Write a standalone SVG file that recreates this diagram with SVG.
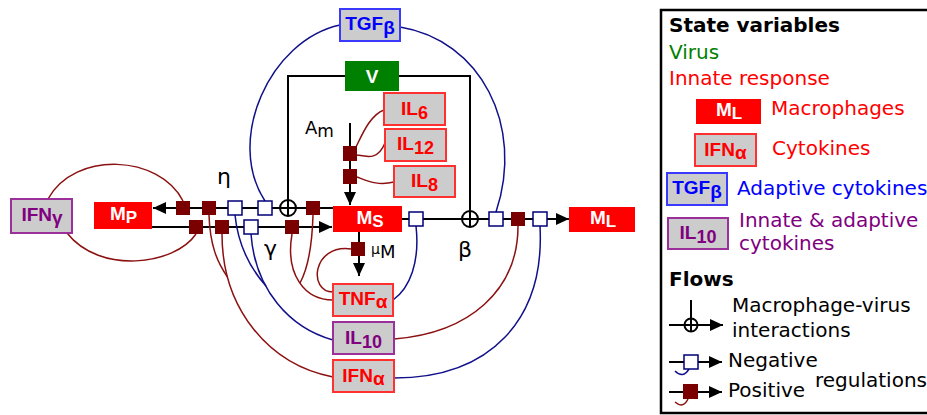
<svg xmlns="http://www.w3.org/2000/svg" width="927" height="415" viewBox="0 0 927 415">
<style>
.ln{stroke:#000;stroke-width:2;fill:none}
.pos{fill:#7a0000}
.neg{fill:#fff;stroke:#00007a;stroke-width:1.5}
.cr{stroke:#8b1010;stroke-width:1.5;fill:none}
.cb{stroke:#10108b;stroke-width:1.5;fill:none}
.gr{fill:#ccc;stroke-width:2}
.lbl{font-family:"Liberation Sans",Arial,sans-serif;font-weight:bold;font-size:19px;text-anchor:middle}
.sub{font-size:18px}
.gk{font-size:19px}
.leg{font-family:"DejaVu Sans",sans-serif;font-size:20px}
.sym{font-family:"DejaVu Sans",sans-serif;font-size:22px}
</style>
<defs>
<marker id="ah" markerUnits="userSpaceOnUse" markerWidth="13" markerHeight="12" refX="13" refY="6" orient="auto">
<path d="M0,0 L13,6 L0,12 z" fill="#000"/>
</marker>
</defs>

<g id="connectors">
<path class="ln" d="M333,208 H153" marker-end="url(#ah)"/>
<path class="ln" d="M152,227 H332" marker-end="url(#ah)"/>
<path class="ln" d="M402,219 H569" marker-end="url(#ah)"/>
<path class="ln" d="M350,123 V205" marker-end="url(#ah)"/>
<path class="ln" d="M359,232 V276" marker-end="url(#ah)"/>
<path class="ln" d="M345,76 H288 V216"/>
<path class="ln" d="M399,76 H470 V227"/>
<circle class="ln" cx="288" cy="208" r="8"/>
<circle class="ln" cx="470" cy="219" r="8"/>

<path class="cr" d="M48,199 C75,150 160,155 183,201"/>
<path class="cr" d="M67,233 C100,275 175,265 196,234"/>
<path class="cb" d="M340,25 C270,40 225,140 265,201"/>
<path class="cb" d="M400,27 C480,40 525,125 496,212"/>
<path class="cr" d="M384,110 C370,115 362,135 356,147"/>
<path class="cr" d="M385,143 C378,160 368,157 357,155"/>
<path class="cr" d="M394,182 C378,186 368,181 357,177"/>
<path class="cr" d="M351,249 C312,244 308,292 333,292"/>
<path class="cr" d="M292,234 C285,275 305,300 333,300"/>
<path class="cr" d="M313,215 C312,250 306,272 300,283"/>
<path class="cb" d="M333,340 C290,328 255,290 251,234"/>
<path class="cb" d="M235,215 C238,245 250,268 266,286"/>
<path class="cr" d="M333,377 C270,365 222,310 222,234"/>
<path class="cr" d="M209,215 C210,245 217,262 227.5,277"/>
<path class="cb" d="M393,300 C410,288 420,262 416,226"/>
<path class="cr" d="M394,339 C470,333 518,290 518,226"/>
<path class="cb" d="M394,378 C490,378 545,320 540,226"/>

<rect class="pos" x="176" y="201" width="14" height="14"/>
<rect class="pos" x="202" y="201" width="14" height="14"/>
<rect class="neg" x="228" y="201" width="14" height="14"/>
<rect class="neg" x="258" y="201" width="14" height="14"/>
<rect class="pos" x="306" y="201" width="14" height="14"/>
<rect class="pos" x="189" y="220" width="14" height="14"/>
<rect class="pos" x="215" y="220" width="14" height="14"/>
<rect class="neg" x="244" y="220" width="14" height="14"/>
<rect class="pos" x="285" y="220" width="14" height="14"/>
<rect class="neg" x="409" y="212" width="14" height="14"/>
<rect class="neg" x="489" y="212" width="14" height="14"/>
<rect class="pos" x="511" y="212" width="14" height="14"/>
<rect class="neg" x="533" y="212" width="14" height="14"/>
<rect class="pos" x="343" y="146" width="14" height="15"/>
<rect class="pos" x="343" y="169" width="14" height="15"/>
<rect class="pos" x="351" y="242" width="14" height="14"/>
</g>

<g id="labels">
<text class="sym" x="217" y="184">η</text>
<text class="sym" x="264" y="256">γ</text>
<text class="sym" x="458" y="257">β</text>
<text font-family="DejaVu Sans, sans-serif" font-size="18" x="305" y="134">A<tspan dy="3" font-size="17">m</tspan></text>
<text font-family="DejaVu Sans, sans-serif" x="371" y="254"><tspan font-size="14">μ</tspan><tspan font-size="18" dy="4">M</tspan></text>
</g>

<g id="TGFb"><rect class="gr" x="340" y="9" width="60" height="32" stroke="#3a3aff"/><text class="lbl" x="370" y="30" fill="#0000ff">TGF<tspan class="gk" dy="4">β</tspan></text></g>
<g id="V"><rect x="345" y="61" width="54" height="30" fill="#008000"/><text class="lbl" x="372" y="83" fill="#fff">V</text></g>
<g id="IL6"><rect class="gr" x="384" y="93" width="61" height="32" stroke="#ff3030"/><text class="lbl" x="414.5" y="115" fill="#ff0000">IL<tspan class="sub" dy="4">6</tspan></text></g>
<g id="IL12"><rect class="gr" x="385" y="129" width="61" height="32" stroke="#ff3030"/><text class="lbl" x="415.5" y="150" fill="#ff0000">IL<tspan class="sub" dy="4">12</tspan></text></g>
<g id="IL8"><rect class="gr" x="394" y="166" width="61" height="31" stroke="#ff3030"/><text class="lbl" x="424.5" y="187" fill="#ff0000">IL<tspan class="sub" dy="4">8</tspan></text></g>
<g id="Ms"><rect x="333" y="206" width="69" height="26" fill="#ff0000"/><text class="lbl" x="370" y="224" fill="#fff">M<tspan font-size="17" dy="3">S</tspan></text></g>
<g id="Mp"><rect x="94" y="202" width="58" height="27" fill="#ff0000"/><text class="lbl" x="123.5" y="220" fill="#fff">M<tspan font-size="17" dy="3">P</tspan></text></g>
<g id="ML"><rect x="569" y="207" width="66" height="25" fill="#ff0000"/><text class="lbl" x="603" y="224" fill="#fff">M<tspan font-size="17" dy="3">L</tspan></text></g>
<g id="IFNg"><rect class="gr" x="11" y="199" width="61" height="34" stroke="#9b309b"/><text class="lbl" x="42" y="221" fill="#800080">IFN<tspan class="gk" dy="3">γ</tspan></text></g>
<g id="TNFa"><rect class="gr" x="333" y="284" width="60" height="32" stroke="#ff3030"/><text class="lbl" x="363" y="305" fill="#ff0000">TNF<tspan class="gk" dy="3">α</tspan></text></g>
<g id="IL10"><rect class="gr" x="333" y="322" width="61" height="32" stroke="#9b309b"/><text class="lbl" x="363.5" y="344" fill="#800080">IL<tspan class="sub" dy="4">10</tspan></text></g>
<g id="IFNa"><rect class="gr" x="333" y="360" width="61" height="32" stroke="#ff3030"/><text class="lbl" x="363.5" y="382" fill="#ff0000">IFN<tspan class="gk" dy="3">α</tspan></text></g>

<g id="legend">
<rect x="661" y="10" width="300" height="403" fill="none" stroke="#000" stroke-width="2.5"/>
<text class="leg" x="669" y="32" font-weight="bold">State variables</text>
<text class="leg" x="669" y="59" fill="#008000">Virus</text>
<text class="leg" x="669" y="85" fill="#ff0000">Innate response</text>
<rect x="696" y="99" width="65" height="25" fill="#ff0000"/>
<text class="lbl" x="729" y="116" fill="#fff">M<tspan font-size="17" dy="3">L</tspan></text>
<text class="leg" x="771" y="115" fill="#ff0000">Macrophages</text>
<rect class="gr" x="695" y="134" width="61" height="32" stroke="#ff3030"/>
<text class="lbl" x="725.5" y="156" fill="#ff0000">IFN<tspan class="gk" dy="3">α</tspan></text>
<text class="leg" x="772" y="155" fill="#ff0000">Cytokines</text>
<rect class="gr" x="667" y="173" width="60" height="32" stroke="#3a3aff"/>
<text class="lbl" x="697" y="194" fill="#0000ff">TGF<tspan class="gk" dy="4">β</tspan></text>
<text class="leg" x="737" y="195" fill="#0000ff">Adaptive cytokines</text>
<rect class="gr" x="668" y="218" width="60" height="31" stroke="#9b309b"/>
<text class="lbl" x="698" y="239" fill="#800080">IL<tspan class="sub" dy="4">10</tspan></text>
<text class="leg" x="739" y="227" fill="#800080">Innate &amp; adaptive</text>
<text class="leg" x="739" y="250" fill="#800080">cytokines</text>
<text class="leg" x="669" y="286" font-weight="bold">Flows</text>
<path class="ln" d="M691,300 V331 M669,325 H723" marker-end="url(#ah)"/>
<circle class="ln" cx="691" cy="325" r="6.5"/>
<text class="leg" x="732" y="312">Macrophage-virus</text>
<text class="leg" x="732" y="337">interactions</text>
<path class="ln" d="M669,362 H722" marker-end="url(#ah)"/>
<path class="cb" d="M675,371 Q683,379 689,369"/>
<rect class="neg" x="684" y="355" width="14" height="14"/>
<text class="leg" x="728" y="367">Negative</text>
<path class="ln" d="M669,392 H722" marker-end="url(#ah)"/>
<path class="cr" d="M675,402 Q683,409 688,399"/>
<rect class="pos" x="683" y="384" width="15" height="15"/>
<text class="leg" x="728" y="397">Positive</text>
<text class="leg" x="815" y="387" font-size="19.5px">regulations</text>
</g>
</svg>
